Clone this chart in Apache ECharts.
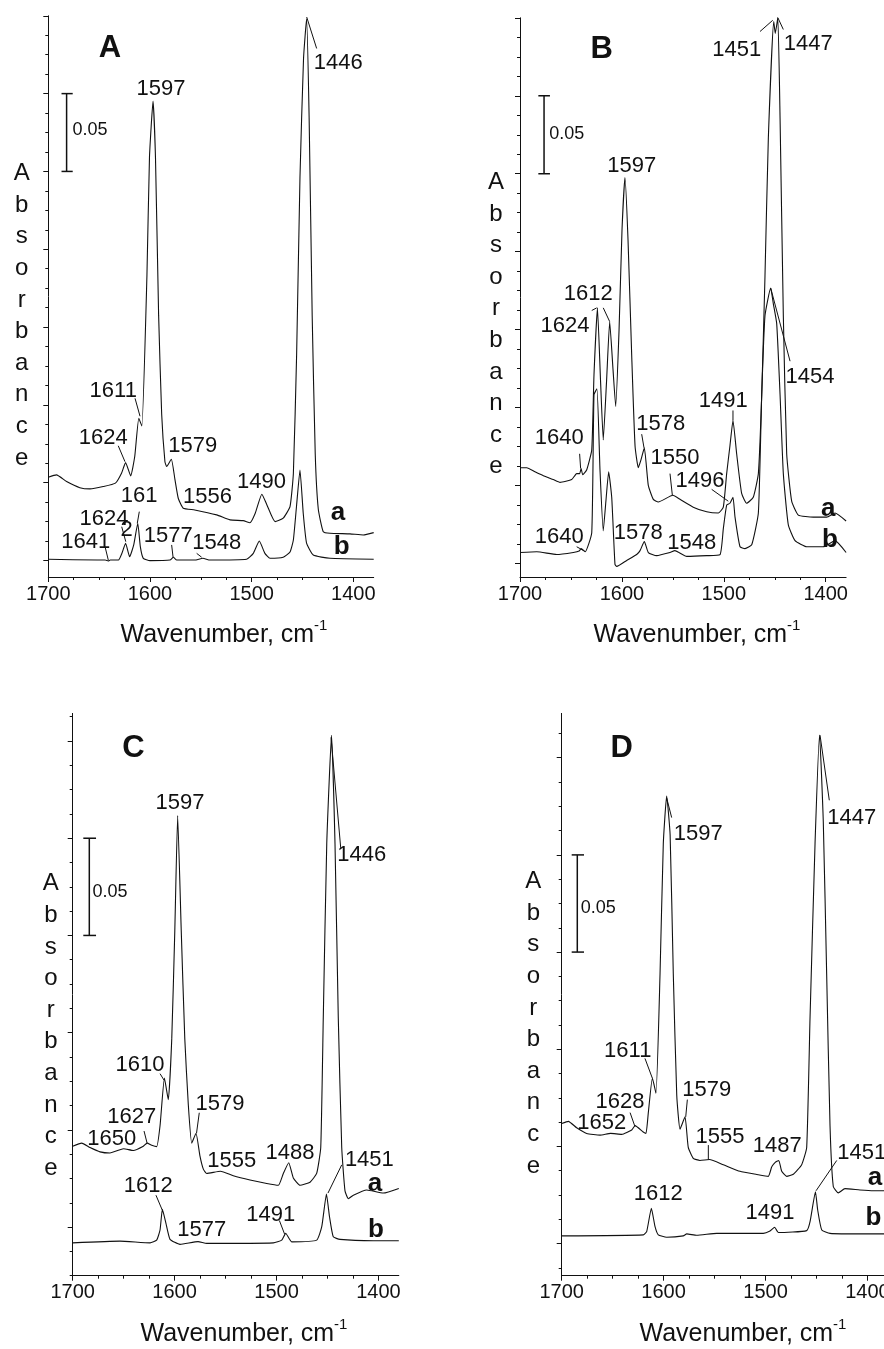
<!DOCTYPE html>
<html>
<head>
<meta charset="utf-8">
<script src="https://cdn.jsdelivr.net/npm/echarts@6/dist/echarts.min.js"></script>
<style>
html,body{margin:0;padding:0;background:#fff}
#c{width:884px;height:1349px}
</style>
</head>
<body>
<div id="c"></div>
<script>
// ---------- spectra: wavenumber (cm-1) and absorbance ----------
// Panel A
const wnAa = [1700,1692,1682,1669,1659,1646,1634,1628,1624,1619,1615,1611,1608,1603,1600.5,1597,1594.6,1591.5,1588.5,1585.3,1583.6,1579,1575.4,1572.2,1567.3,1556,1534.4,1521.3,1508.3,1501.7,1496.5,1490,1485,1477,1469,1462.3,1459,1455.8,1452.5,1449,1446,1443.5,1440.5,1437.5,1434.5,1429.6,1423,1403.3,1390.3,1380];
const absAa = [0.0535,0.0550,0.0507,0.0468,0.0460,0.0475,0.0497,0.0561,0.0629,0.0544,0.0668,0.0914,0.0864,0.1831,0.2591,0.2952,0.2590,0.1575,0.0940,0.0635,0.0604,0.0651,0.0518,0.0400,0.0336,0.0325,0.0293,0.0261,0.0256,0.0243,0.0304,0.0426,0.0357,0.0250,0.0272,0.0346,0.0559,0.1322,0.2464,0.3226,0.3480,0.2845,0.1575,0.0686,0.0331,0.0185,0.0175,0.0171,0.0164,0.0179];
const wnAb = [1700,1652,1644,1641,1639,1631,1627.5,1624,1620,1616,1612,1609.5,1606.6,1600,1580.3,1577,1573.7,1556,1548,1541,1505,1498.4,1492.5,1487,1482,1469,1462.3,1459,1455.8,1452.5,1449.3,1446,1439.4,1423,1380];
const absAb = [0.0008,0.0003,0.0003,-0.0003,0.0003,0.0003,0.0048,0.0111,0.0024,0.0100,0.0239,0.0089,0.0014,-0.0001,0.0003,0.0021,0.0003,0.0003,0.0014,0.0003,0.0008,0.0046,0.0125,0.0046,0.0014,0.0021,0.0055,0.0132,0.0357,0.0582,0.0304,0.0111,0.0035,0.0014,0.0008];

// Panel B
const wnBa = [1700,1693.4,1685.3,1677.1,1667.3,1660.7,1649.3,1644.4,1641.5,1640,1638.5,1634.5,1629.6,1627.4,1624,1621,1618.3,1615,1612,1608.7,1606.1,1602.8,1599.9,1597,1594,1590.4,1587.1,1583.9,1581.3,1578,1574.1,1569.2,1564.3,1550,1543,1530,1516.8,1505.4,1500.5,1497.2,1494,1491,1487.4,1482.5,1477.6,1471.1,1466.1,1462.8,1459.6,1456.3,1451,1449.5,1447,1444.8,1441.6,1438.3,1433.4,1426.9,1412.2,1399,1390.9,1380];
const absBa = [0.0615,0.0615,0.0589,0.0564,0.0539,0.0521,0.0539,0.0577,0.0577,0.0610,0.0570,0.0602,0.0729,0.1210,0.1640,0.1178,0.0793,0.1178,0.1552,0.1242,0.1008,0.1498,0.2140,0.2476,0.2076,0.1337,0.0754,0.0615,0.0665,0.0742,0.0501,0.0412,0.0395,0.0438,0.0412,0.0362,0.0332,0.0324,0.0362,0.0577,0.0754,0.0919,0.0704,0.0450,0.0387,0.0425,0.0577,0.1083,0.1843,0.2729,0.3476,0.3400,0.3501,0.2856,0.1589,0.0704,0.0400,0.0311,0.0298,0.0298,0.0324,0.0273];
const wnBb = [1700,1683.6,1664,1647.7,1642,1640,1636,1629.6,1627.4,1624.5,1621.5,1618.3,1615.6,1613,1610,1606.8,1605.1,1595.3,1585.5,1582.2,1578,1574.1,1565.9,1552.8,1548,1536.4,1516.8,1503.7,1500.5,1497.2,1494,1491,1489,1484.1,1479.2,1472.6,1466.1,1462.8,1459.6,1454,1451.4,1448.1,1444.8,1441.6,1436.7,1430.1,1418.6,1402.4,1390.9,1380];
const absBb = [0.0071,0.0076,0.0058,0.0071,0.0080,0.0096,0.0076,0.0198,0.1083,0.1121,0.0600,0.0210,0.0408,0.0589,0.0425,-0.0005,-0.0018,0.0020,0.0058,0.0083,0.0142,0.0071,0.0051,0.0071,0.0083,0.0046,0.0051,0.0058,0.0223,0.0375,0.0387,0.0425,0.0298,0.0108,0.0096,0.0121,0.0324,0.1083,0.1589,0.1767,0.1666,0.1539,0.1083,0.0577,0.0248,0.0147,0.0108,0.0108,0.0147,0.0071];

// Panel C
const wnCa = [1700,1691.2,1683,1673.2,1663.4,1653.6,1650,1640.5,1630.7,1627,1622.5,1617.6,1614.3,1610,1606.2,1602.8,1599.8,1597,1593.5,1590,1586.6,1583.2,1579,1575.1,1571.8,1568.5,1555,1542.4,1526,1509.6,1498.2,1493.3,1488,1483.5,1476.9,1467.1,1460.6,1456.6,1454.1,1450.7,1446,1442.6,1439.4,1436,1432.8,1429.5,1424.6,1411.5,1395.2,1380];
const absCa = [0.0416,0.0432,0.0409,0.0387,0.0381,0.0398,0.0403,0.0394,0.0416,0.0432,0.0421,0.0414,0.0521,0.0766,0.0655,0.0968,0.1526,0.2117,0.1526,0.0968,0.0633,0.0432,0.0483,0.0365,0.0298,0.0276,0.0287,0.0264,0.0242,0.0224,0.0215,0.0276,0.0331,0.0253,0.0215,0.0231,0.0276,0.0409,0.1079,0.1972,0.2530,0.1972,0.1079,0.0409,0.0186,0.0146,0.0164,0.0191,0.0175,0.0199];
const wnCb = [1700,1653.6,1624.1,1617.6,1614.3,1612,1608.5,1604.5,1594.7,1577,1568.5,1503.1,1494.9,1491,1485.1,1460.6,1455.6,1451,1448,1444.3,1437.7,1405,1380];
const absCb = [-0.0081,-0.0072,-0.0081,-0.0067,-0.0015,0.0091,0.0019,-0.0063,-0.0089,-0.0075,-0.0084,-0.0081,-0.0067,-0.0032,-0.0076,-0.0067,0.0002,0.0170,0.0053,-0.0050,-0.0063,-0.0070,-0.0070];

// Panel D
const wnDa = [1700,1693.5,1685.3,1675.5,1662.4,1652,1641.1,1631.3,1628,1620,1617.3,1615,1611,1607.5,1603.5,1600.3,1597,1593.6,1590.5,1587.1,1583.9,1579,1575.8,1570.9,1564.4,1555,1541.4,1525,1508.6,1497.3,1493.9,1490.7,1487,1484.1,1479.2,1472.7,1464.5,1459.6,1456.3,1451.4,1447,1443.3,1440,1436.7,1433.5,1428.6,1422,1407.3,1394.2,1380];
const absDa = [0.0618,0.0629,0.0596,0.0567,0.0558,0.0567,0.0562,0.0585,0.0607,0.0574,0.0567,0.0674,0.0852,0.0774,0.1388,0.2058,0.2303,0.2103,0.1388,0.0763,0.0589,0.0652,0.0495,0.0439,0.0428,0.0433,0.0406,0.0372,0.0356,0.0346,0.0395,0.0417,0.0428,0.0372,0.0346,0.0357,0.0406,0.0495,0.1165,0.2058,0.2616,0.2170,0.1388,0.0607,0.0294,0.0261,0.0283,0.0276,0.0272,0.0272];
const wnDb = [1700,1619.9,1616.6,1612,1608.4,1605.2,1597,1580.7,1577.3,1567.5,1547.9,1502.2,1495.6,1491,1487.4,1459.6,1456.3,1451,1448.8,1444.8,1436.7,1404,1380];
const absDb = [0.0040,0.0045,0.0062,0.0182,0.0087,0.0045,0.0033,0.0040,0.0050,0.0043,0.0053,0.0053,0.0065,0.0084,0.0057,0.0067,0.0113,0.0267,0.0173,0.0070,0.0053,0.0050,0.0050];

// ---------- axis tick labels ----------
const xTickLabels = [1700, 1600, 1500, 1400];

// ---------- peak annotations: [text, wavenumber, absorbance] ----------
const peaksA = [['1446',1414.8,0.320],['1597',1589.2,0.3028],['1611',1636.1,0.1092],['1624',1645.9,0.0788],['1579',1558.0,0.0737],['1556',1543.5,0.0411],['1490',1490.4,0.0502],['161',1610.6,0.0415],['1624',1645.2,0.0267],['2',1622.9,0.0196],['1641',1663.1,0.0121],['1577',1582.0,0.0159],['1548',1534.4,0.0111]];
const peaksB = [['1451',1487.3,0.3291],['1447',1417.1,0.3332],['1597',1590.4,0.2552],['1612',1633,0.1729],['1624',1655.8,0.1527],['1454',1415.4,0.1197],['1491',1500.5,0.1046],['1578',1561.9,0.0894],['1640',1661.4,0.0805],['1550',1547.9,0.0678],['1496',1523.4,0.0527],['1640',1661.4,0.0172],['1578',1583.9,0.0198],['1548',1531.5,0.0134]];
const peaksC = [['1597',1594.7,0.2184],['1446',1416.4,0.1916],['1610',1634,0.0833],['1579',1555.4,0.0633],['1627',1642.1,0.0566],['1650',1661.7,0.0454],['1555',1544,0.0338],['1488',1486.7,0.0383],['1451',1408.9,0.0347],['1612',1625.8,0.0213],['1577',1573.4,-0.0015],['1491',1505.7,0.0063]];
const peaksD = [['1447',1415.4,0.2192],['1597',1566,0.2107],['1611',1635.2,0.0991],['1628',1642.8,0.073],['1652',1660.7,0.0622],['1579',1557.7,0.079],['1555',1544.7,0.0551],['1487',1488.4,0.0502],['1451',1405.6,0.0469],['1612',1605.2,0.0256],['1491',1495.6,0.0156]];

// leader lines: [wn1, abs1, wn2, abs2]
const leadersA = [[1445.9,0.3492,1436.1,0.329],[1614.7,0.1042,1609.8,0.0927],[1631.2,0.0737,1624.6,0.0635],[1610.5,0.0314,1612.5,0.0239],[1627.8,0.0217,1623.8,0.0121],[1644.2,0.0089,1641,0.0003],[1578.7,0.0100,1577.3,0.0021],[1554.1,0.0046,1549.2,0.0021]];
const leadersB = [[1464.5,0.3412,1452,0.3484],[1447,0.3501,1441.6,0.3425],[1629.6,0.1623,1624.7,0.164],[1618.3,0.164,1612,0.1552],[1454,0.1767,1435,0.1298],[1491,0.0982,1491,0.0919],[1580.6,0.083,1578.3,0.0742],[1641.5,0.0704,1640.5,0.0610],[1552.8,0.0577,1550.5,0.0438],[1511.9,0.0476,1495.6,0.04],[1644.4,0.0108,1638,0.0085]];
const leadersC = [[1446.5,0.2519,1437,0.195],[1614.3,0.0789,1610.4,0.0756],[1575.8,0.0588,1578.5,0.0483],[1630,0.0494,1627,0.0432],[1436,0.032,1449.5,0.0175],[1618.3,0.0164,1612,0.0086],[1497.2,0.0034,1492,-0.0037]];
const leadersD = [[1446.5,0.2616,1437.4,0.2281],[1597,0.2293,1592.1,0.2192],[1618.3,0.0953,1611.1,0.0852],[1632.9,0.0674,1628.1,0.0602],[1576.7,0.0741,1578.3,0.0652],[1556.1,0.0507,1556.1,0.0433],[1430.1,0.0428,1450.4,0.0272]];

// curve tags and panel letters: [text, wavenumber, absorbance]
const tagsA = [['a',1415.1,0.0306],['b',1411.5,0.0089]];
const tagsB = [['a',1397.5,0.0349],['b',1395.8,0.0151]];
const tagsC = [['a',1403.3,0.022],['b',1402.4,-0.0015]];
const tagsD = [['a',1392.5,0.0339],['b',1394.2,0.0131]];
const letters = [['A',1639.3,0.329],['B',1619.8,0.3299],['C',1640.5,0.2464],['D',1641.1,0.2549]];

// 0.05 absorbance scale bars: [wn, absLow, absHigh, capLeftWn, capRightWn]
const scaleBars = [[1682,0.25,0.30,1687,1676],[1676.4,0.25,0.30,1682,1670.6],[1683.7,0.15,0.20,1689.6,1677.1],[1684.7,0.15,0.20,1690.2,1678.1]];
const scaleText = [['0.05',1659,0.2764],['0.05',1654.2,0.2754],['0.05',1663.4,0.1722],['0.05',1664.1,0.1728]];

// ---------- layout ----------
const FONT = 'Arial, "Liberation Sans", sans-serif';
const INK = '#111';
const panels = [
  {grid:{left:48.3, top:15.8, width:325.4, height:561.2}, yMin:-0.0106, yMax:0.35,
   a:[wnAa,absAa], b:[wnAb,absAb], peaks:peaksA, leaders:leadersA, tags:tagsA},
  {grid:{left:520, top:17.8, width:326.1, height:559.2}, yMin:-0.0086, yMax:0.35,
   a:[wnBa,absBa], b:[wnBb,absBb], peaks:peaksB, leaders:leadersB, tags:tagsB},
  {grid:{left:72.7, top:713.4, width:326.1, height:562.3}, yMin:-0.025, yMax:0.2642,
   a:[wnCa,absCa], b:[wnCb,absCb], peaks:peaksC, leaders:leadersC, tags:tagsC},
  {grid:{left:561.7, top:713.4, width:326.1, height:562.3}, yMin:-0.0165, yMax:0.2728,
   a:[wnDa,absDa], b:[wnDb,absDb], peaks:peaksD, leaders:leadersD, tags:tagsD}
];
const absorbancePos = [[21.7,315.8],[496,324.6],[50.8,1025.9],[533.3,1023.8]];
const wavenumberPos = [[224,633],[697,633],[244,1332],[743,1332]];

function ticks(lo, hi, step, keepMajor, majorStep) {
  const out = [];
  const start = Math.ceil(lo / step - 1e-9);
  for (let k = start; k * step <= hi + 1e-9; k++) {
    const v = +(k * step).toFixed(6);
    const isMajor = Math.abs(v / majorStep - Math.round(v / majorStep)) < 1e-6;
    if (isMajor === keepMajor) out.push(v);
  }
  return out;
}

const grids = [], xAxes = [], yAxes = [], series = [];

panels.forEach((p, i) => {
  grids.push(Object.assign({containLabel:false, outerBoundsMode:'none'}, p.grid));
  const xi = 2 * i, yi = 2 * i;
  // x axis: major ticks with labels, then an overlaid axis carrying the minor ticks
  xAxes.push({
    gridIndex:i, type:'value', inverse:true, min:1380, max:1700, position:'bottom', offset:0,
    axisLine:{show:true, onZero:false, lineStyle:{color:INK, width:1}},
    axisTick:{show:true, inside:false, length:5, customValues:ticks(1380,1700,100,true,100), lineStyle:{color:INK}},
    axisLabel:{show:true, customValues:xTickLabels, formatter:v => String(v), fontSize:20, fontFamily:FONT, color:INK, margin:7},
    splitLine:{show:false}
  });
  xAxes.push({
    gridIndex:i, type:'value', inverse:true, min:1380, max:1700, position:'bottom', offset:0,
    axisLine:{show:false, onZero:false},
    axisTick:{show:true, inside:false, length:3, customValues:ticks(1380,1700,25,false,100), lineStyle:{color:INK}},
    axisLabel:{show:false}, splitLine:{show:false}
  });
  yAxes.push({
    gridIndex:i, type:'value', min:p.yMin, max:p.yMax, position:'left', offset:0,
    axisLine:{show:true, onZero:false, lineStyle:{color:INK, width:1}},
    axisTick:{show:true, inside:false, length:5, customValues:ticks(p.yMin,p.yMax,0.05,true,0.05), lineStyle:{color:INK}},
    axisLabel:{show:false}, splitLine:{show:false}
  });
  yAxes.push({
    gridIndex:i, type:'value', min:p.yMin, max:p.yMax, position:'left', offset:0,
    axisLine:{show:false, onZero:false},
    axisTick:{show:true, inside:false, length:3, customValues:ticks(p.yMin,p.yMax,0.0125,false,0.05), lineStyle:{color:INK}},
    axisLabel:{show:false}, splitLine:{show:false}
  });

  [p.a, p.b].forEach((c, k) => {
    series.push({
      type:'line', name:(k ? 'b' : 'a') + i, xAxisIndex:xi, yAxisIndex:yi,
      data:c[0].map((w, j) => [w, c[1][j]]),
      showSymbol:false, symbol:'none', smooth:0.15,
      lineStyle:{color:INK, width:1.1}, silent:true, z:3
    });
  });

  series.push({
    type:'custom', xAxisIndex:xi, yAxisIndex:yi, silent:true, z:4,
    data:p.leaders, encode:{x:[0,2], y:[1,3]},
    renderItem:(params, api) => {
      const s = api.coord([api.value(0), api.value(1)]);
      const e = api.coord([api.value(2), api.value(3)]);
      return {type:'line', shape:{x1:s[0], y1:s[1], x2:e[0], y2:e[1]}, style:{stroke:INK, lineWidth:1}};
    }
  });

  series.push({
    type:'custom', xAxisIndex:xi, yAxisIndex:yi, silent:true, z:4,
    data:[scaleBars[i]], encode:{x:[0,3,4], y:[1,2]},
    renderItem:(params, api) => {
      const lo = api.coord([api.value(0), api.value(1)]);
      const hi = api.coord([api.value(0), api.value(2)]);
      const l = api.coord([api.value(3), api.value(1)])[0];
      const r = api.coord([api.value(4), api.value(1)])[0];
      const st = {stroke:INK, lineWidth:1.5};
      return {type:'group', children:[
        {type:'line', shape:{x1:lo[0], y1:lo[1], x2:hi[0], y2:hi[1]}, style:st},
        {type:'line', shape:{x1:l, y1:lo[1], x2:r, y2:lo[1]}, style:st},
        {type:'line', shape:{x1:l, y1:hi[1], x2:r, y2:hi[1]}, style:st}
      ]};
    }
  });

  const textSeries = (list, size, weight) => ({
    type:'custom', xAxisIndex:xi, yAxisIndex:yi, silent:true, z:5,
    data:list.map(t => [t[1], t[2]]), encode:{x:0, y:1},
    renderItem:(params, api) => {
      const pt = api.coord([api.value(0), api.value(1)]);
      return {type:'text', x:pt[0], y:pt[1], style:{
        text:list[params.dataIndex][0], fontSize:size, fontWeight:weight,
        fontFamily:FONT, fill:INK, align:'center', verticalAlign:'middle'}};
    }
  });
  series.push(textSeries(p.peaks, 22, 'normal'));
  series.push(textSeries(p.tags, 26, 'bold'));
  series.push(textSeries([letters[i]], 31, 'bold'));
  series.push(textSeries([scaleText[i]], 18, 'normal'));
});

const graphics = [];
absorbancePos.forEach(pt => {
  graphics.push({type:'text', x:pt[0], y:pt[1], silent:true, style:{
    text:'Absorbance'.split('').join('\n'), fontSize:24, fontFamily:FONT, fill:INK,
    lineHeight:31.6, align:'center', verticalAlign:'middle'}});
});
wavenumberPos.forEach(pt => {
  graphics.push({type:'text', x:pt[0], y:pt[1], silent:true, style:{
    text:'{m|Wavenumber, cm}{s|-1}', align:'center', verticalAlign:'middle', fill:INK,
    rich:{
      m:{fontSize:25, fontFamily:FONT, fill:INK, lineHeight:30, verticalAlign:'bottom'},
      s:{fontSize:15, fontFamily:FONT, fill:INK, lineHeight:30, verticalAlign:'top'}
    }}});
});

const chart = echarts.init(document.getElementById('c'), null, {renderer:'canvas', width:884, height:1349});
chart.setOption({
  animation:false,
  backgroundColor:'#fff',
  grid:grids, xAxis:xAxes, yAxis:yAxes, series:series,
  graphic:graphics
});
</script>
</body>
</html>
